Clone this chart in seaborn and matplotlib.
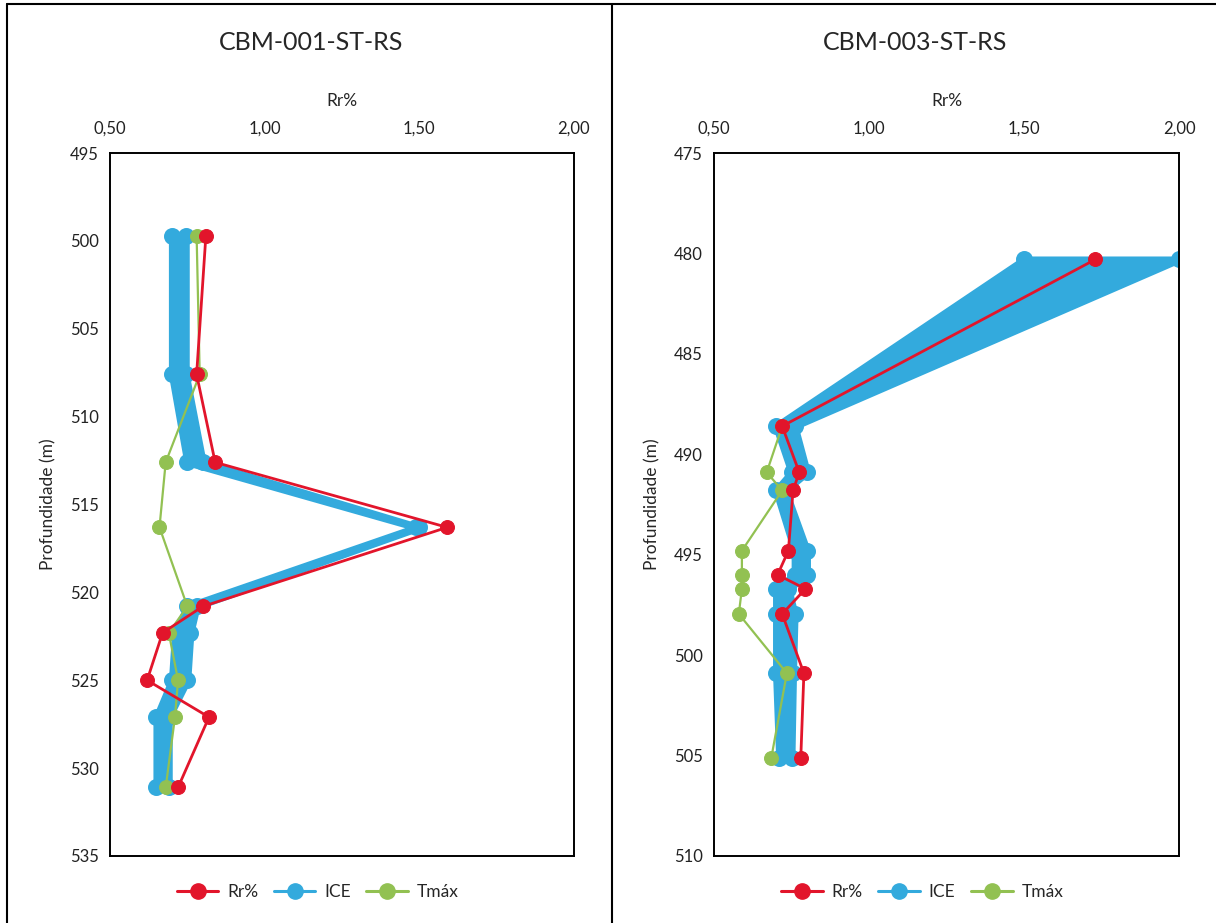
"""
Vitrinite reflectance (Rr%) x depth profiles for two CBM wells
"""
import matplotlib
matplotlib.use("Agg")
import matplotlib.pyplot as plt
import seaborn as sns
import pandas as pd
from matplotlib.lines import Line2D

# well CBM-001-ST-RS
depth_001 = [499.7, 507.6, 512.6, 516.3, 520.8, 522.3, 525.0, 527.1, 531.1]
rr_001 = [0.81, 0.78, 0.84, 1.59, 0.80, 0.67, 0.62, 0.82, 0.72]
ice_min_001 = [0.70, 0.70, 0.75, 1.49, 0.75, 0.71, 0.70, 0.65, 0.65]
ice_max_001 = [0.745, 0.745, 0.80, 1.50, 0.78, 0.76, 0.75, 0.69, 0.69]
tmax_001 = [0.78, 0.79, 0.68, 0.66, 0.75, 0.69, 0.72, 0.71, 0.68]

# well CBM-003-ST-RS
depth_003 = [480.3, 488.6, 490.9, 491.8, 494.8, 496.0, 496.7, 497.95, 500.9, 505.1]
rr_003 = [1.73, 0.72, 0.775, 0.755, 0.74, 0.705, 0.795, 0.72, 0.79, 0.78]
ice_min_003 = [1.50, 0.70, 0.75, 0.70, 0.76, 0.76, 0.70, 0.70, 0.70, 0.71]
ice_max_003 = [2.00, 0.76, 0.80, 0.73, 0.80, 0.80, 0.74, 0.76, 0.755, 0.75]
tmax_depth_003 = [488.6, 490.9, 491.8, 494.8, 496.0, 496.7, 497.95, 500.9, 505.1]
tmax_003 = [0.72, 0.67, 0.72, 0.59, 0.59, 0.59, 0.58, 0.735, 0.685]

x_ticks = [0.5, 1.0, 1.5, 2.0]
x_tick_labels = ["0,50", "1,00", "1,50", "2,00"]

RED = "#E2152B"
BLUE = "#33AADD"
GREEN = "#92C152"
FONT = ["Lato", "DejaVu Sans"]

sns.set_theme(style="white")
plt.rcParams["font.family"] = FONT

fig = plt.figure(figsize=(12.16, 9.23), dpi=100)


def draw_panel(ax, depth, rr, ice_min, ice_max, tmax_depth, tmax, ylim):
    # ICE range drawn as a filled band with markers on both edges
    ax.fill_betweenx(depth, ice_min, ice_max, color=BLUE, linewidth=5,
                     edgecolor=BLUE, zorder=1)
    ice = pd.DataFrame({"depth": depth * 2, "ice": list(ice_min) + list(ice_max)})
    sns.scatterplot(data=ice, x="ice", y="depth", color=BLUE, s=150,
                    linewidth=0, ax=ax, zorder=2)

    sns.lineplot(x=tmax, y=tmax_depth, sort=False, estimator=None, color=GREEN,
                 linewidth=1.6, marker="o", markersize=10, markeredgecolor=GREEN,
                 ax=ax, zorder=3)
    sns.lineplot(x=rr, y=depth, sort=False, estimator=None, color=RED,
                 linewidth=2.0, marker="o", markersize=10, markeredgecolor=RED,
                 ax=ax, zorder=4)

    ax.set_xlim(0.5, 2.0)
    ax.set_ylim(ylim[1], ylim[0])
    ax.set_yticks(range(ylim[0], ylim[1] + 1, 5))
    ax.set_xticks(x_ticks)
    ax.set_xticklabels(x_tick_labels)
    ax.xaxis.tick_top()
    ax.xaxis.set_label_position("top")
    ax.set_xlabel("Rr%", fontsize=12.5, labelpad=10)
    ax.set_ylabel("Profundidade (m)", fontsize=12.5, labelpad=10)
    ax.tick_params(axis="both", length=0, labelsize=12, colors="#222222")
    ax.tick_params(axis="x", pad=12)
    ax.tick_params(axis="y", pad=8)
    for sp in ax.spines.values():
        sp.set_color("black")
        sp.set_linewidth(1.4)

    handles = [Line2D([], [], color=c, lw=2.2, marker="o", markersize=11)
               for c in (RED, BLUE, GREEN)]
    pos = ax.get_position()
    fig.legend(handles, ["Rr%", "ICE", "Tmáx"], loc="center",
               bbox_to_anchor=(pos.x0 + pos.width / 2 - 0.02, 0.034),
               ncol=3, frameon=False, fontsize=12.5, handlelength=2.4,
               columnspacing=0.9, handletextpad=0.5)


ax1 = fig.add_axes([110 / 1216, 67 / 923, 464 / 1216, 703 / 923])
ax2 = fig.add_axes([714 / 1216, 67 / 923, 465 / 1216, 703 / 923])

draw_panel(ax1, depth_001, rr_001, ice_min_001, ice_max_001,
           depth_001, tmax_001, (495, 535))
draw_panel(ax2, depth_003, rr_003, ice_min_003, ice_max_003,
           tmax_depth_003, tmax_003, (475, 510))

fig.text(311 / 1216, 1 - 42 / 923, "CBM-001-ST-RS", ha="center", va="center",
         fontsize=18)
fig.text(915 / 1216, 1 - 42 / 923, "CBM-003-ST-RS", ha="center", va="center",
         fontsize=18)

# chart frames: top line, left edge and divider between the two charts
top = 1 - 4 / 923
fig.add_artist(Line2D([7 / 1216, 1.0], [top, top], color="black", lw=1.5))
for x in (7, 612):
    fig.add_artist(Line2D([x / 1216, x / 1216], [0, top], color="black", lw=1.5))

fig.savefig("out.png", dpi=100)
